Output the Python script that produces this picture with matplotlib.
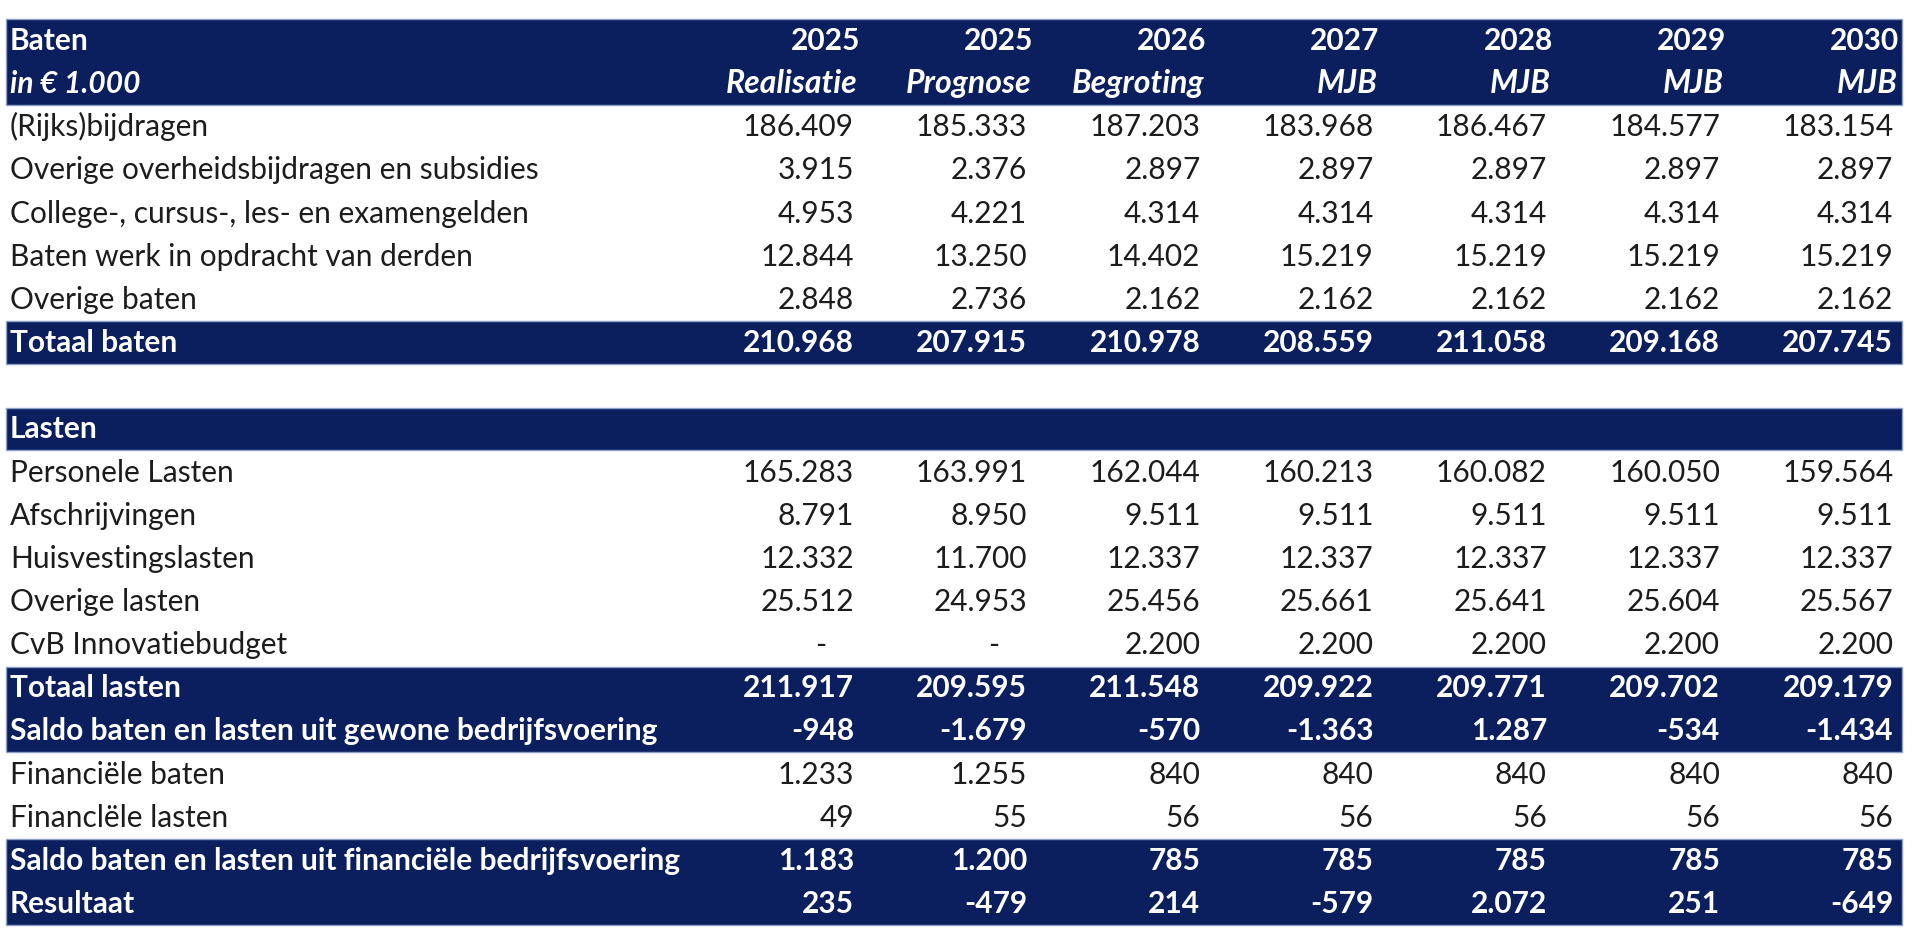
import matplotlib.pyplot as plt
from matplotlib.patches import Rectangle

# ======================================
# data
years = ['2025', '2025', '2026', '2027', '2028', '2029', '2030']
kinds = ['Realisatie', 'Prognose', 'Begroting', 'MJB', 'MJB', 'MJB', 'MJB']

baten_labels = ['(Rijks)bijdragen',
                'Overige overheidsbijdragen en subsidies',
                'College-, cursus-, les- en examengelden',
                'Baten werk in opdracht van derden',
                'Overige baten']
baten_values = [[186409, 185333, 187203, 183968, 186467, 184577, 183154],
                [3915, 2376, 2897, 2897, 2897, 2897, 2897],
                [4953, 4221, 4314, 4314, 4314, 4314, 4314],
                [12844, 13250, 14402, 15219, 15219, 15219, 15219],
                [2848, 2736, 2162, 2162, 2162, 2162, 2162]]
totaal_baten = [210968, 207915, 210978, 208559, 211058, 209168, 207745]

lasten_labels = ['Personele Lasten', 'Afschrijvingen', 'Huisvestingslasten',
                 'Overige lasten', 'CvB Innovatiebudget']
lasten_values = [[165283, 163991, 162044, 160213, 160082, 160050, 159564],
                 [8791, 8950, 9511, 9511, 9511, 9511, 9511],
                 [12332, 11700, 12337, 12337, 12337, 12337, 12337],
                 [25512, 24953, 25456, 25661, 25641, 25604, 25567],
                 [None, None, 2200, 2200, 2200, 2200, 2200]]
totaal_lasten = [211917, 209595, 211548, 209922, 209771, 209702, 209179]
saldo_gewoon = [-948, -1679, -570, -1363, 1287, -534, -1434]

fin_labels = ['Financiële baten', 'Financlële lasten']
fin_values = [[1233, 1255, 840, 840, 840, 840, 840],
              [49, 55, 56, 56, 56, 56, 56]]
saldo_fin = [1183, 1200, 785, 785, 785, 785, 785]
resultaat = [235, -479, 214, -579, 2072, 251, -649]

# ======================================
# layout (pixels)
W, H = 1920, 931
navy = '#0b1f5e'
ink = '#1c1c1c'
font = 21.5
row_h = 43.15
top = 40            # centre of first row
left = 6
right = 1902
text_x = 10
col_right = [854 + 173.2 * i for i in range(7)]

plt.rcParams['font.family'] = ['Lato', 'DejaVu Sans']

fig = plt.figure(figsize=(W / 100, H / 100), dpi=100)
ax = fig.add_axes([0, 0, 1, 1])
ax.set_xlim(0, W)
ax.set_ylim(H, 0)
ax.axis('off')


def yc(i):
    return top + row_h * i


def band(i0, i1):
    y0 = yc(i0) - row_h / 2 + 1
    ax.add_patch(Rectangle((left, y0), right - left, row_h * (i1 - i0 + 1) - 1,
                           facecolor=navy, edgecolor='#8fa0c8', lw=1.0))


def fmt(v):
    if v is None:
        return '-'
    return f'{v:,}'.replace(',', '.')


def put_row(i, label, values, color=ink, weight='normal'):
    base = yc(i) + 10
    ax.text(text_x, base, label, color=color, fontsize=font,
            fontweight=weight, va='baseline', ha='left')
    if values is None:
        return
    for c, v in enumerate(values):
        x = col_right[c] - (28 if v is None else 0)
        ax.text(x, base, fmt(v), color=color, fontsize=font,
                fontweight=weight, va='baseline', ha='right')


# bands
band(0, 1)
band(7, 7)
band(9, 9)
band(15, 16)
band(19, 20)

# header
ax.text(text_x, yc(0) + 10, 'Baten', color='white', fontsize=font,
        fontweight='bold', va='baseline')
ax.text(text_x, yc(1) + 10, 'in € 1.000', color='white', fontsize=font,
        fontweight='bold', style='italic', va='baseline')
for c in range(7):
    ax.text(col_right[c] + 6, yc(0) + 10, years[c], color='white',
            fontsize=font, fontweight='bold', va='baseline', ha='right')
    ax.text(col_right[c] + 4, yc(1) + 10, kinds[c], color='white',
            fontsize=font + 1.5, fontweight='bold', style='italic',
            va='baseline', ha='right')

# baten
for k in range(len(baten_labels)):
    put_row(2 + k, baten_labels[k], baten_values[k])
put_row(7, 'Totaal baten', totaal_baten, 'white', 'bold')

# lasten
put_row(9, 'Lasten', None, 'white', 'bold')
for k in range(len(lasten_labels)):
    put_row(10 + k, lasten_labels[k], lasten_values[k])
put_row(15, 'Totaal lasten', totaal_lasten, 'white', 'bold')
put_row(16, 'Saldo baten en lasten uit gewone bedrijfsvoering', saldo_gewoon,
        'white', 'bold')
for k in range(len(fin_labels)):
    put_row(17 + k, fin_labels[k], fin_values[k])
put_row(19, 'Saldo baten en lasten uit financiële bedrijfsvoering', saldo_fin,
        'white', 'bold')
put_row(20, 'Resultaat', resultaat, 'white', 'bold')

plt.savefig('out.png', dpi=100, facecolor='white')
